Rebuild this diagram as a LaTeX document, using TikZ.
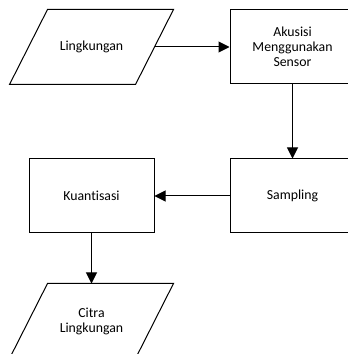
\documentclass[tikz,border=0pt]{standalone}
\usepackage{fontspec}
\setmainfont{Carlito}[Ligatures=NoCommon]
\usepackage{tikz}
\usetikzlibrary{arrows.meta,positioning}

\begin{document}
\begin{tikzpicture}[x=1pt, y=1pt, >={Triangle[length=11pt,width=11pt]}, line width=1pt,
  every node/.style={font=\fontsize{13.8}{15}\selectfont, align=center},
  proc/.style={draw, rectangle, minimum width=125pt, minimum height=74pt, inner sep=0pt},
  io/.style={rectangle, minimum width=125pt, minimum height=74pt, inner sep=0pt}]
\useasboundingbox (0,0) rectangle (348,354);
\clip (0,0) rectangle (348,354);
\node[io] (env) at (91.5,307) {Lingkungan};
\node[proc, right=75pt of env] (akusisi) {Akusisi\\Menggunakan\\Sensor};
\node[proc, below=74pt of akusisi] (sampling) {Sampling};
\node[proc, left=75pt of sampling] (kuantisasi) {Kuantisasi};
\node[io, below=50pt of kuantisasi] (citra) {Citra\\Lingkungan};
% parallelogram outlines for input / output
\draw ([xshift=19pt]env.north west) -- ([xshift=19pt]env.north east) -- ([xshift=-19pt]env.south east) -- ([xshift=-19pt]env.south west) -- cycle;
\draw ([xshift=19pt]citra.north west) -- ([xshift=19pt]citra.north east) -- ([xshift=-19pt]citra.south east) -- ([xshift=-19pt]citra.south west) -- cycle;
\draw[->] (env) -- (akusisi);
\draw[->] (akusisi) -- (sampling);
\draw[->] (sampling) -- (kuantisasi);
\draw[->] (kuantisasi) -- (citra);
\end{tikzpicture}
\end{document}
